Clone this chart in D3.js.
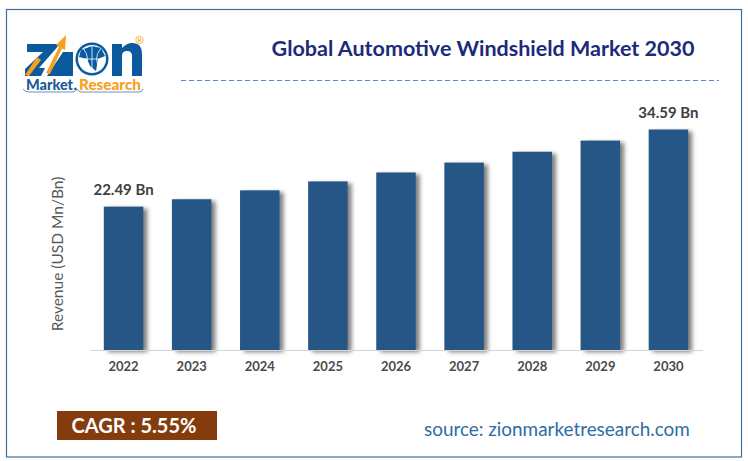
<!DOCTYPE html>
<html>
<head>
<meta charset="utf-8">
<script src="https://cdn.jsdelivr.net/npm/d3@7"></script>
<style>
  html, body { margin: 0; padding: 0; background: #fff; }
  svg { display: block; }
  text { font-family: Lato, "Open Sans", sans-serif; }
</style>
</head>
<body>
<div id="chart"></div>
<script>
// Values
var years = ["2022", "2023", "2024", "2025", "2026", "2027", "2028", "2029", "2030"];
var revenue = [22.49, 23.65, 25.05, 26.45, 27.85, 29.4, 31.1, 32.85, 34.59];
var barLabels = ["22.49 Bn", "", "", "", "", "", "", "", "34.59 Bn"];

var titleText = "Global Automotive Windshield Market 2030";
var yAxisTitle = "Revenue (USD Mn/Bn)";
var cagrText = "CAGR : 5.55%";
var sourceText = "source: zionmarketresearch.com";

var width = 748, height = 461;
var margin = {top: 129.5, right: 46, bottom: 111, left: 89};

var svg = d3.select("#chart")
  .append("svg")
  .attr("width", width)
  .attr("height", height);

var defs = svg.append("defs");
var shadow = defs.append("filter")
  .attr("id", "barShadow")
  .attr("x", "-20%").attr("y", "-10%")
  .attr("width", "150%").attr("height", "120%");
shadow.append("feDropShadow")
  .attr("dx", 4).attr("dy", 2)
  .attr("stdDeviation", 2.2)
  .attr("flood-color", "#555")
  .attr("flood-opacity", 0.75);

svg.append("rect").attr("width", width).attr("height", height).attr("fill", "#fff");

// Outer frame
svg.append("rect")
  .attr("x", 6.5).attr("y", 9.5)
  .attr("width", 735).attr("height", 447.5)
  .attr("fill", "none")
  .attr("stroke", "#3f6f9f")
  .attr("stroke-width", 1.2);

// Title and dashed rule
svg.append("text")
  .attr("x", 483).attr("y", 56)
  .attr("text-anchor", "middle")
  .attr("font-size", 21.5)
  .attr("font-weight", 700)
  .attr("fill", "#1b2a7a")
  .text(titleText);

svg.append("line")
  .attr("x1", 181).attr("x2", 719)
  .attr("y1", 80.5).attr("y2", 80.5)
  .attr("stroke", "#5f88cc")
  .attr("stroke-width", 1)
  .attr("stroke-dasharray", "5 3");

// Scales
var x = d3.scaleBand()
  .domain(years)
  .range([margin.left + 0.5, width - margin.right + 0.5])
  .paddingInner(0.42)
  .paddingOuter(0.21);

var y = d3.scaleLinear()
  .domain([0, 34.59])
  .range([height - margin.bottom, margin.top]);

// Bars
svg.selectAll(".bar")
  .data(revenue)
  .enter().append("rect")
  .attr("class", "bar")
  .attr("x", function(d, i) { return x(years[i]); })
  .attr("y", function(d) { return y(d); })
  .attr("width", x.bandwidth())
  .attr("height", function(d) { return y(0) - y(d); })
  .attr("fill", "#255785")
  .attr("filter", "url(#barShadow)");

// X axis
var xAxis = svg.append("g")
  .attr("transform", "translate(0," + (height - margin.bottom) + ")")
  .call(d3.axisBottom(x).tickSize(0).tickPadding(12));
xAxis.select(".domain").attr("stroke", "#d4d4d4").attr("stroke-width", 1.2);
xAxis.selectAll("text")
  .attr("font-size", 13)
  .attr("font-weight", 700)
  .attr("fill", "#4a4a4a")
  .style("font-family", "Lato, sans-serif");

// Value labels on the first and last bars
svg.selectAll(".bar-label")
  .data(barLabels)
  .enter().append("text")
  .attr("class", "bar-label")
  .attr("x", function(d, i) { return x(years[i]) + x.bandwidth() / 2; })
  .attr("y", function(d, i) { return y(revenue[i]) - 12; })
  .attr("text-anchor", "middle")
  .attr("font-size", 15)
  .attr("font-weight", 700)
  .attr("fill", "#404040")
  .text(function(d) { return d; });

// Y axis title
svg.append("text")
  .attr("transform", "translate(63,254) rotate(-90)")
  .attr("text-anchor", "middle")
  .attr("font-size", 15.5)
  .attr("fill", "#595959")
  .text(yAxisTitle);

// CAGR box
svg.append("rect")
  .attr("x", 57).attr("y", 411)
  .attr("width", 160).attr("height", 29)
  .attr("fill", "#843c0c");
svg.append("text")
  .attr("x", 134).attr("y", 432.5)
  .attr("text-anchor", "middle")
  .attr("font-size", 20)
  .attr("font-weight", 700)
  .attr("fill", "#fff")
  .text(cagrText);

// Source
svg.append("text")
  .attr("x", 424).attr("y", 436)
  .attr("font-size", 18.9)
  .attr("fill", "#2e6ca4")
  .text(sourceText);

// Logo
var logo = svg.append("g");
var logoBlue = "#0b5a9f", logoOrange = "#f7a01e";

logo.append("path")
  .attr("d", "M27 44H60L39 68H45L41 76H25V69L43 52H27Z")
  .attr("fill", logoBlue);
logo.append("path")
  .attr("d", "M63 52H73V76H47Z")
  .attr("fill", logoBlue);
logo.append("path")
  .attr("d", "M25 75L37 57L41 60L29 76Z")
  .attr("fill", logoOrange);
logo.append("path")
  .attr("d", "M46 73L59 47L56 45L66 35L65 50L62 48.5L50 74Z")
  .attr("fill", logoOrange);

// Globe
logo.append("circle").attr("cx", 92).attr("cy", 59).attr("r", 16.5).attr("fill", logoBlue);
logo.append("circle").attr("cx", 92).attr("cy", 59).attr("r", 14).attr("fill", "#fff");
logo.append("path")
  .attr("d", "M81 50L92 46L101 48L105 56L98 59L96 71L90 66L87 59L79 57Z")
  .attr("fill", logoBlue);
logo.append("path")
  .attr("d", "M78 59H106M92 45V73M83 48Q92 59 83 70M101 48Q92 59 101 70")
  .attr("fill", "none").attr("stroke", "#fff").attr("stroke-width", 0.8);

// n
logo.append("path")
  .attr("d", "M112 76V44H122V48Q127 43 132 43Q142 43 142 54V76H132V56Q132 51 127 51Q122 51 122 56V76Z")
  .attr("fill", logoBlue);

// Registered mark
logo.append("circle").attr("cx", 139.5).attr("cy", 40).attr("r", 3.7)
  .attr("fill", "none").attr("stroke", logoOrange).attr("stroke-width", 0.8);
logo.append("text").attr("x", 139.5).attr("y", 42)
  .attr("text-anchor", "middle").attr("font-size", 5.5).attr("font-weight", 700)
  .attr("fill", logoOrange).text("R");

logo.append("text").attr("x", 26).attr("y", 90)
  .attr("font-size", 14.5).attr("font-weight", 900)
  .attr("textLength", 47).attr("lengthAdjust", "spacingAndGlyphs")
  .attr("fill", "#1c5a9a").text("Market");
logo.append("text").attr("x", 73.5).attr("y", 90)
  .attr("font-size", 14.5).attr("font-weight", 900)
  .attr("fill", "#1c5a9a").text(".");
logo.append("text").attr("x", 79).attr("y", 90)
  .attr("font-size", 14.5).attr("font-weight", 900)
  .attr("textLength", 62).attr("lengthAdjust", "spacingAndGlyphs")
  .attr("fill", logoOrange).text("Research");
logo.append("path")
  .attr("d", "M23 89Q25 92 29 92H73Q75 92 77 89Q79 92 81 92H139Q142 92 143 89")
  .attr("fill", "none").attr("stroke", "#3c78b4").attr("stroke-width", 0.8);
</script>
</body>
</html>
